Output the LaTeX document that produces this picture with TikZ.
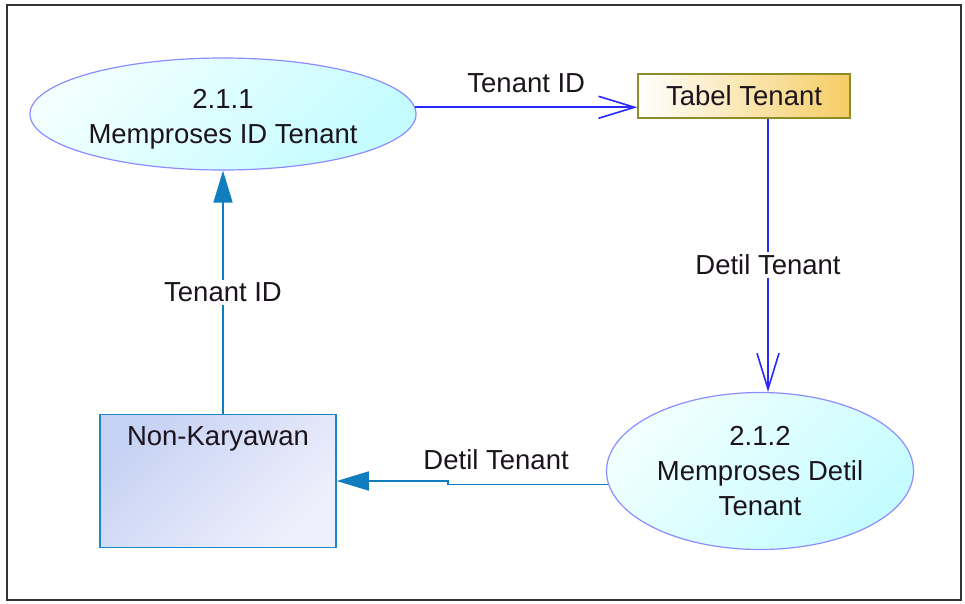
\documentclass[tikz,border=0pt]{standalone}
\usepackage{fontspec}
\setmainfont{Liberation Sans}
\usetikzlibrary{arrows.meta, shapes.geometric, positioning}
\definecolor{procline}{RGB}{140,140,255}
\definecolor{proclight}{RGB}{242,255,255}
\definecolor{procdark}{RGB}{196,252,255}
\definecolor{storeline}{RGB}{140,140,40}
\definecolor{storegold}{RGB}{245,205,100}
\definecolor{entline}{RGB}{26,136,200}
\definecolor{entdark}{RGB}{198,210,244}
\definecolor{entlight}{RGB}{240,240,252}
\definecolor{flowblue}{RGB}{40,40,255}
\definecolor{flowsteel}{RGB}{16,126,190}
\definecolor{labeltext}{RGB}{28,20,28}
\newcommand{\dfdfont}{\fontsize{27.5}{35}\selectfont}
\tikzset{
    process/.style = {ellipse, draw=procline, line width=1.2pt, top color=proclight, bottom color=procdark, shading angle=45, inner sep=0pt, align=center, text=labeltext, font=\dfdfont},
    store/.style = {rectangle, draw=storeline, line width=1.5pt, left color=white, right color=storegold, minimum width=212pt, minimum height=44pt, text=labeltext, font=\dfdfont},
    entity/.style = {rectangle, draw=entline, line width=1.5pt, top color=entdark, bottom color=entlight, shading angle=45, minimum width=236pt, minimum height=133pt},
    flowlabel/.style = {font=\dfdfont, text=labeltext, inner sep=3pt},
    flowA/.style = {line width=1.6pt, flowblue, -{Straight Barb[length=36pt, width=22pt]}},
    flowB/.style = {line width=1.6pt, flowsteel, -{Triangle[length=32pt, width=19pt]}}
}

\begin{document}
\begin{tikzpicture}[x=1pt, y=-1pt]
  \useasboundingbox (0,0) rectangle (965,603);
  \draw[line width=2.2pt, black!80] (7,5) rectangle (961,600);

  % processes, data store and external entity
  \node[process, minimum width=386pt, minimum height=112pt] (p1) at (223,114) {\rule{0pt}{29pt}2.1.1\\Memproses ID Tenant};
  \node[store] (tbl) at (744,96) {Tabel Tenant};
  \node[process, minimum width=307pt, minimum height=157pt] (p2) at (760,471) {2.1.2\\Memproses Detil\\Tenant};
  \node[entity, label={[flowlabel, anchor=north, yshift=-10pt]north:Non-Karyawan}] (nk) at (218,481) {};

  % data flows
  \draw[flowA] (p1.2) -- node[flowlabel, above=11pt] {Tenant ID} (p1.2 -| tbl.west);
  \draw[flowA] ([xshift=24pt]tbl.south) -- node[flowlabel, fill=white, pos=0.535] {Detil Tenant} ([xshift=24pt]tbl.south |- p2.north);
  \draw[flowB] (p2.185) -- node[flowlabel, above=11pt, pos=0.7] {Detil Tenant} ++(-160,0) |- (nk.east);
  \draw[flowB] (nk.north -| p1.south) -- node[flowlabel, fill=white] {Tenant ID} (p1.south);
\end{tikzpicture}
\end{document}
